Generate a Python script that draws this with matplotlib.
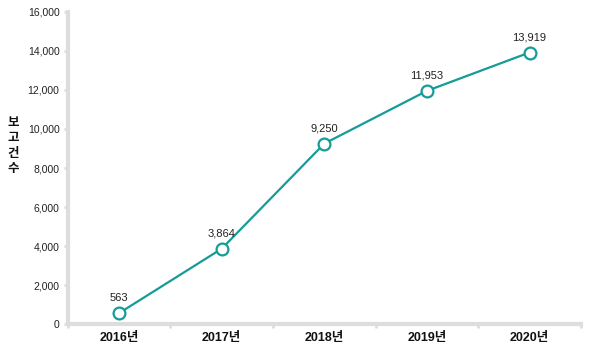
import matplotlib.pyplot as plt
from matplotlib.ticker import FuncFormatter

plt.rcParams['font.family'] = ['Liberation Sans', 'Noto Sans CJK KR', 'DejaVu Sans']

years = ['2016년', '2017년', '2018년', '2019년', '2020년']
counts = [563, 3864, 9250, 11953, 13919]
y_ticks = [0, 2000, 4000, 6000, 8000, 10000, 12000, 14000, 16000]

teal = '#159c98'
grey = '#dddddd'

fig = plt.figure(figsize=(6, 3.5), dpi=100)
ax = fig.add_axes([0.113, 0.074, 0.855, 0.892])

x = list(range(len(years)))
ax.plot(x, counts, color=teal, linewidth=1.6, marker='o', markersize=8.5,
        markerfacecolor='white', markeredgecolor=teal, markeredgewidth=1.6,
        zorder=3, clip_on=False)

for xi, v in zip(x, counts):
    ax.annotate(f'{v:,}', (xi, v), xytext=(0, 7.5), textcoords='offset points',
                ha='center', va='bottom', fontsize=8, color='#222222')

ax.set_xlim(-0.5, len(years) - 0.5)
ax.set_ylim(0, 16000)
ax.set_yticks(y_ticks)
ax.yaxis.set_major_formatter(FuncFormatter(lambda v, p: f'{int(v):,}'))
ax.tick_params(axis='y', length=3, width=2, color=grey, labelsize=7.5,
               labelcolor='#222222', pad=3)

ax.set_xticks(x)
ax.set_xticklabels(years, fontsize=9, fontweight='bold', color='#111111')
ax.tick_params(axis='x', which='major', length=0, pad=6)
ax.set_xticks([i - 0.5 for i in range(len(years) + 1)], minor=True)
ax.tick_params(axis='x', which='minor', length=3, width=2, color=grey)

for side in ['top', 'right']:
    ax.spines[side].set_visible(False)
for side in ['left', 'bottom']:
    ax.spines[side].set_color(grey)
    ax.spines[side].set_linewidth(3)

fig.text(0.022, 0.585, '보\n고\n건\n수', ha='center', va='center',
         fontsize=9, fontweight='bold', linespacing=1.25, color='#111111',
         family=['Noto Sans CJK KR'])

fig.savefig('out.png', dpi=100)
